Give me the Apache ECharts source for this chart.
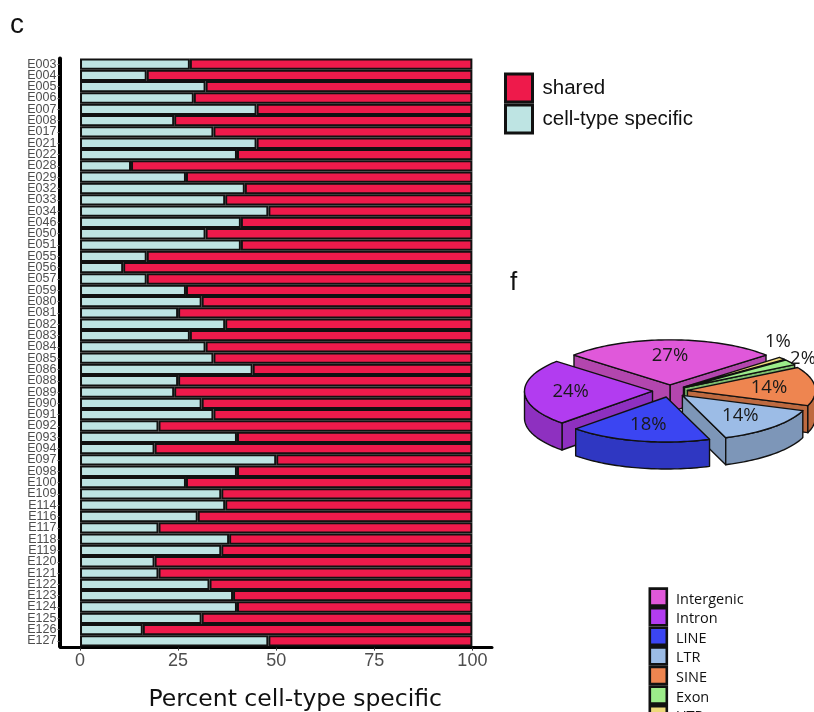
<!DOCTYPE html>
<html>
<head>
<meta charset="utf-8">
<script src="https://cdn.jsdelivr.net/npm/echarts@6/dist/echarts.min.js"></script>
<style>
  html, body { margin: 0; padding: 0; background: #fff; }
  #chart { width: 814px; height: 712px; }
</style>
</head>
<body>
<div id="chart"></div>
<script>
// ---- Panel c: share of cell-type specific elements per epigenome ----
const epigenomes = [
  'E003','E004','E005','E006','E007','E008','E017','E021','E022','E028','E029','E032','E033',
  'E034','E046','E050','E051','E055','E056','E057','E059','E080','E081','E082','E083','E084',
  'E085','E086','E088','E089','E090','E091','E092','E093','E094','E097','E098','E100','E109',
  'E114','E116','E117','E118','E119','E120','E121','E122','E123','E124','E125','E126','E127'
];
const specificPct = [
  28, 17, 32, 29, 45, 24, 34, 45, 40, 13, 27, 42, 37,
  48, 41, 32, 41, 17, 11, 17, 27, 31, 25, 37, 28, 32,
  34, 44, 25, 24, 31, 34, 20, 40, 19, 50, 40, 27, 36,
  37, 30, 20, 38, 36, 19, 20, 33, 39, 40, 31, 16, 48
];
const sharedPct = [
  72, 83, 68, 71, 55, 76, 66, 55, 60, 87, 73, 58, 63,
  52, 59, 68, 59, 83, 89, 83, 73, 69, 75, 63, 72, 68,
  66, 56, 75, 76, 69, 66, 80, 60, 81, 50, 60, 73, 64,
  63, 70, 80, 62, 64, 81, 80, 67, 61, 60, 69, 84, 52
];
const xTicks = [0, 25, 50, 75, 100];

// ---- Panel f: genomic annotation of the elements ----
const repeatClasses = ['Intergenic', 'Intron', 'LINE', 'LTR', 'SINE', 'Exon', 'UTR'];
const repeatPct = [27, 24, 18, 14, 14, 2, 1];
const repeatColors = ['#E058DA', '#B23CF0', '#3B45F2', '#9CBCE6', '#EE8550', '#9CEC8A', '#EDD97A'];

const SANS = '"Liberation Sans", Arial, sans-serif';
const OPEN = '"Open Sans", "Noto Sans", sans-serif';

// 3D pie geometry (screen pixels)
const PIE = { cx: 670, cy: 391, rx: 128, ry: 45, depth: 27, explode: 17.5 };
const rad = d => d * Math.PI / 180;

function sliceGeometry() {
  const total = repeatPct.reduce((a, b) => a + b, 0);
  let a = 90 - repeatPct[0] / total * 180;  // first slice centred at the top
  return repeatPct.map(v => {
    const span = v / total * 360;
    const g = { start: a, end: a + span, mid: a + span / 2 };
    a += span;
    return g;
  });
}
const geom = sliceGeometry();

function apexOf(g) {
  return [PIE.cx + PIE.explode * Math.cos(rad(g.mid)),
          PIE.cy - PIE.explode * PIE.ry / PIE.rx * Math.sin(rad(g.mid))];
}
function rim(o, deg, f, dy) {
  f = f == null ? 1 : f; dy = dy || 0;
  return [o[0] + PIE.rx * f * Math.cos(rad(deg)), o[1] - PIE.ry * f * Math.sin(rad(deg)) + dy];
}
function arcPts(o, a0, a1, dy) {
  const n = Math.max(2, Math.ceil(Math.abs(a1 - a0) / 1.5));
  const p = [];
  for (let k = 0; k <= n; k++) p.push(rim(o, a0 + (a1 - a0) * k / n, 1, dy));
  return p;
}
function shade(hex, f) {
  const n = parseInt(hex.slice(1), 16);
  const r = Math.round(((n >> 16) & 255) * f), g = Math.round(((n >> 8) & 255) * f), b = Math.round((n & 255) * f);
  return 'rgb(' + r + ',' + g + ',' + b + ')';
}

// back-to-front drawing rank
const order = geom.map((g, i) => ({ i, d: -Math.sin(rad(g.mid)) })).sort((a, b) => a.d - b.d).map(o => o.i);
const rank = geom.map((g, i) => order.indexOf(i));

// percent label positions: inside for large slices, outside (staggered) for thin ones
const labelPos = [];
let lastSmall = null;
geom.forEach((g, i) => {
  const o = apexOf(g);
  if (repeatPct[i] >= 5) {
    labelPos.push(rim(o, g.mid, 0.64));
  } else {
    let p = rim(o, g.mid, 1.12);
    if (lastSmall && Math.abs(p[1] - lastSmall[1]) < 16 && Math.abs(p[0] - lastSmall[0]) < 30) {
      p = [p[0] - 16, lastSmall[1] - 17];
    }
    labelPos.push(p);
    lastSmall = p;
  }
});

function renderSlice(params) {
  const i = params.dataIndex;
  const g = geom[i];
  const o = apexOf(g);
  const D = PIE.depth;
  const top = repeatColors[i];
  const side = shade(top, 0.8);
  const base = rank[i] * 10;
  const st = { stroke: '#111', lineWidth: 1.4, lineJoin: 'round' };
  const children = [];

  // radial walls facing the viewer
  [[g.start, Math.cos(rad(g.start)) > 0], [g.end, Math.cos(rad(g.end)) < 0]].forEach(([a, vis]) => {
    if (!vis) return;
    const r = rim(o, a);
    children.push({
      type: 'polygon', z2: base + 1,
      shape: { points: [o, r, [r[0], r[1] + D], [o[0], o[1] + D]] },
      style: Object.assign({ fill: side }, st)
    });
  });
  // front part of the outer wall
  const lo = Math.max(g.start, 180), hi = Math.min(g.end, 360);
  if (lo < hi) {
    children.push({
      type: 'polygon', z2: base + 2,
      shape: { points: arcPts(o, lo, hi, 0).concat(arcPts(o, hi, lo, D)) },
      style: Object.assign({ fill: side }, st)
    });
  }
  // top face
  children.push({
    type: 'polygon', z2: base + 3,
    shape: { points: [o].concat(arcPts(o, g.start, g.end, 0)) },
    style: Object.assign({ fill: top }, st)
  });
  // value label
  children.push({
    type: 'text', z2: 1000,
    style: {
      text: repeatPct[i] + '%', x: labelPos[i][0], y: labelPos[i][1],
      align: 'center', verticalAlign: 'middle',
      font: '18.5px ' + OPEN, fill: '#1a1a1a'
    }
  });
  return { type: 'group', children };
}

// legend of the annotation classes
const pieLegend = [];
repeatClasses.forEach((name, i) => {
  pieLegend.push({
    type: 'rect',
    shape: { x: 649.8, y: 588.6 + i * 19.6, width: 17, height: 17 },
    style: { fill: repeatColors[i], stroke: '#111', lineWidth: 2.6 }
  });
  pieLegend.push({
    type: 'text', x: 676, y: 599.5 + i * 19.6,
    style: { text: name, font: '14.5px ' + OPEN, fill: '#111', verticalAlign: 'middle' }
  });
});

const chart = echarts.init(document.getElementById('chart'));
chart.setOption({
  animation: false,
  backgroundColor: '#fff',
  grid: { left: 60.4, right: 322, top: 58.4, bottom: 65.4, containLabel: false, outerBoundsMode: 'none' },
  legend: {
    data: ['shared', 'cell-type specific'],
    orient: 'vertical', left: 504, top: 72.5, padding: 0,
    icon: 'rect', itemWidth: 27, itemHeight: 28, itemGap: 0,
    itemStyle: { borderColor: '#111', borderWidth: 3 },
    textStyle: { fontSize: 20.5, fontFamily: SANS, color: '#111', padding: [0, 0, 0, 5] },
    selectedMode: false
  },
  xAxis: {
    type: 'value', min: -5, max: 105, offset: 1,
    name: 'Percent cell-type specific', nameLocation: 'middle', nameGap: 40,
    nameTextStyle: { fontSize: 23.5, fontFamily: '"DejaVu Sans", sans-serif', color: '#111', padding: [0, 0, 0, 38] },
    axisLine: { show: true, onZero: false, lineStyle: { color: '#000', width: 3 } },
    axisTick: { show: true, length: 3, customValues: xTicks, lineStyle: { color: '#333', width: 1 } },
    axisLabel: { customValues: xTicks, fontSize: 18, fontFamily: SANS, color: '#4d4d4d', margin: 4 },
    splitLine: { show: false }
  },
  yAxis: {
    type: 'category', data: epigenomes, inverse: true, offset: 1,
    axisLine: { show: true, onZero: false, lineStyle: { color: '#000', width: 4 } },
    axisTick: { show: true, length: 2, alignWithLabel: true, lineStyle: { color: '#666', width: 1 } },
    axisLabel: { interval: 0, fontSize: 12.5, lineHeight: 11, fontFamily: SANS, color: '#4d4d4d', margin: 3 },
    splitLine: { show: false }
  },
  graphic: [
    { type: 'text', x: 10, y: 25.5, style: { text: 'c', font: '28px ' + SANS, fill: '#111', verticalAlign: 'middle' } },
    { type: 'text', x: 510, y: 282.6, style: { text: 'f', font: '26px ' + SANS, fill: '#111', verticalAlign: 'middle' } }
  ].concat(pieLegend),
  series: [
    {
      name: 'cell-type specific', type: 'bar', stack: 'pct', data: specificPct, barWidth: '100%',
      itemStyle: { color: '#BEE4E3', borderColor: '#111', borderWidth: 2 }
    },
    {
      name: 'shared', type: 'bar', stack: 'pct', data: sharedPct, barWidth: '100%',
      itemStyle: { color: '#EE1A4B', borderColor: '#111', borderWidth: 2 }
    },
    {
      name: 'annotation', type: 'custom', coordinateSystem: 'none', silent: true,
      data: repeatPct.map((v, i) => ({ name: repeatClasses[i], value: v })),
      renderItem: renderSlice
    }
  ]
});
</script>
</body>
</html>
